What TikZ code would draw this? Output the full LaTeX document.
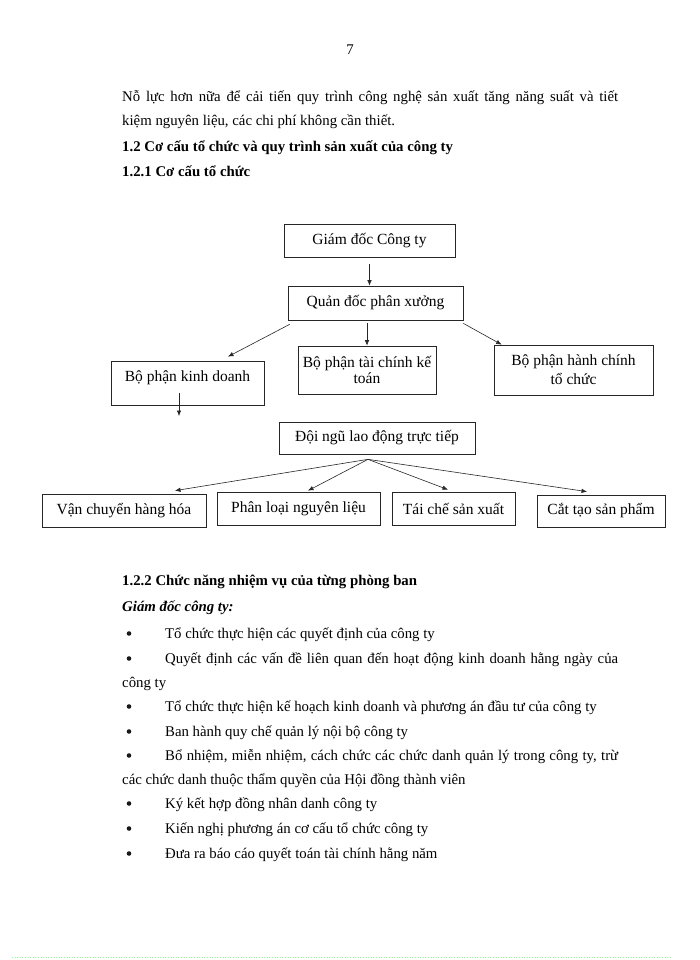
\documentclass[tikz,border=0pt]{standalone}
\usepackage{fontspec}
\setmainfont{Liberation Serif}
\usepackage{tikz}
\usetikzlibrary{arrows.meta,positioning}
\tikzset{orgbox/.style={draw=black!85,line width=0.7pt,inner sep=1pt,align=center,font=\fontsize{15.5}{16}\selectfont},
  orgline/.style={->,line width=0.6pt,draw=black!85},
  bodytext/.style={anchor=base west,inner sep=0pt,font=\fontsize{14.8}{17}\selectfont},
  bulletdot/.style={circle,fill=black!90,inner sep=0pt,minimum size=4.6pt}}

\begin{document}
\begin{tikzpicture}[x=1pt,y=-1pt,>={Latex[length=5.5pt,width=4.5pt]}]
  \useasboundingbox (0,0) rectangle (700,960);

  % page text above the chart
  \node[bodytext,anchor=base] (pagenum) at (350,55) {7};
  \node[bodytext] (par1) at (122,102) {\makebox[496pt][s]{Nỗ lực hơn nữa để cải tiến quy trình công nghệ sản xuất tăng năng suất và tiết}};
  \node[bodytext] (par2) at (122,126) {kiệm nguyên liệu, các chi phí không cần thiết.};
  \node[bodytext,font=\fontsize{14.8}{17}\selectfont\bfseries] (sec12) at (122,152) {1.2 Cơ cấu tổ chức và quy trình sản xuất của công ty};
  \node[bodytext,font=\fontsize{14.8}{17}\selectfont\bfseries] (sec121) at (122,177) {1.2.1 Cơ cấu tổ chức};

  % chart
  \node[orgbox,minimum width=171pt,minimum height=33pt] (gd) at (369.5,240.5) {Giám đốc Công ty};
  \node[orgbox,minimum width=175pt,minimum height=34pt] (qd) at (375.5,303) {Quản đốc phân xưởng};
  \node[orgbox,minimum width=153pt,minimum height=44pt,text depth=14pt] (kd) at (187.5,383) {Bộ phận kinh\ doanh};
  \node[orgbox,minimum width=138pt,minimum height=48pt] (tc) at (367,370) {Bộ phận tài chính kế\\toán};
  \node[orgbox,minimum width=159pt,minimum height=50pt] (hc) at (573.5,370) {Bộ phận hành chính\\[3pt]tổ chức};
  \node[orgbox,minimum width=196pt,minimum height=32pt] (dn) at (377,438) {Đội ngũ lao động trực tiếp};
  \node[orgbox,minimum width=164pt,minimum height=33pt] (vc) at (124,510.5) {Vận chuyển hàng hóa};
  \node[orgbox,minimum width=163pt,minimum height=33pt] (pl) at (298.5,508.5) {Phân loại nguyên liệu};
  \node[orgbox,minimum width=123pt,minimum height=33pt] (sx) at (453.5,508.5) {Tái chế sản xuất};
  \node[orgbox,minimum width=128pt,minimum height=32pt] (ct) at (601,511) {Cắt tạo sản phẩm};
  \coordinate (kdend) at (179,416);

  \draw[orgline,shorten <=7pt] (gd.south) -- (gd.south |- qd.north);
  \draw[orgline] ([xshift=2pt,yshift=-4pt]qd.south west) -- ([xshift=40.5pt,yshift=4pt]kd.north);
  \draw[orgline,shorten <=3pt] (qd.south -| tc.north) -- (tc.north);
  \draw[orgline] ([yshift=-3pt]qd.south east) -- ([xshift=8pt]hc.north west);
  \draw[orgline] ([xshift=-8.5pt,yshift=12pt]kd.south) -- (kdend);
  \foreach \target/\dx/\dy in {vc/51/3,pl/9.5/1,sx/-5.5/2,ct/-14/3} {
    \draw[orgline] ([xshift=-9pt,yshift=-5pt]dn.south) -- ([xshift=\dx pt,yshift=\dy pt]\target.north);
  }

  % page text below the chart
  \node[bodytext,font=\fontsize{14.8}{17}\selectfont\bfseries] (sec122) at (122,585) {1.2.2 Chức năng nhiệm vụ của từng phòng ban};
  \node[bodytext,font=\fontsize{14.8}{17}\selectfont\bfseries\itshape] (gdhead) at (122,611) {Giám đốc công ty:};
  \foreach \y in {638,663,711,736,760,808,833,858}
    \node[bulletdot] (bul\y) at (129,\y-4.5) {};
  \node[bodytext] (item1) at (165,638) {Tổ chức thực hiện các quyết định của công ty};
  \node[bodytext] (item2) at (165,663) {\makebox[453pt][s]{Quyết định các vấn đề liên quan đến hoạt động kinh doanh hằng ngày của}};
  \node[bodytext] (item2b) at (122,687) {công ty};
  \node[bodytext] (item3) at (165,711) {Tổ chức thực hiện kế hoạch kinh doanh và phương án đầu tư của công ty};
  \node[bodytext] (item4) at (165,736) {Ban hành quy chế quản lý nội bộ công ty};
  \node[bodytext] (item5) at (165,760) {\makebox[453pt][s]{Bổ nhiệm, miễn nhiệm, cách chức các chức danh quản lý trong công ty, trừ}};
  \node[bodytext] (item5b) at (122,784) {các chức danh thuộc thẩm quyền của Hội đồng thành viên};
  \node[bodytext] (item6) at (165,808) {Ký kết hợp đồng nhân danh công ty};
  \node[bodytext] (item7) at (165,833) {Kiến nghị phương án cơ cấu tổ chức công ty};
  \node[bodytext] (item8) at (165,858) {Đưa ra báo cáo quyết toán tài chính hằng năm};

  \draw[green!45,dotted,line width=0.6pt] (12,957) -- (670,957);
\end{tikzpicture}
\end{document}
